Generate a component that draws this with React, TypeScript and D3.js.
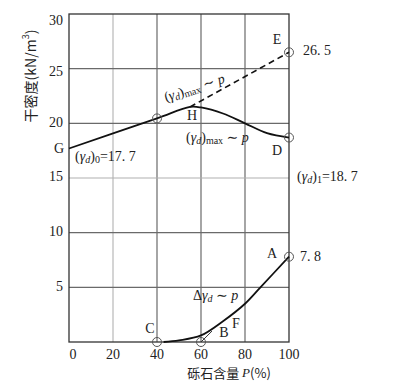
import React from "react";
import * as d3 from "d3";

const xTicks = [0, 20, 40, 60, 80, 100];
const yTicks = [5, 10, 15, 20, 25, 30];

// solid (γd)max ~ p curve
const solidP = [0, 40, 55, 60, 70, 80, 90, 100];
const solidV = [17.7, 20.45, 21.5, 21.45, 20.9, 20.0, 19.1, 18.7];

// dashed (γd)max ~ p extension
const dashP = [55, 100];
const dashV = [21.5, 26.5];

// Δγd ~ p curve
const deltaP = [43, 50, 60, 70, 80, 87, 100];
const deltaV = [0, 0.15, 0.6, 1.9, 3.5, 5.0, 7.8];

// marked points (circles)
const markP = [40, 100, 100, 40, 60, 100];
const markV = [20.45, 26.5, 18.7, 0, 0, 7.8];

const W = 401;
const H = 381;
const serif = "'Liberation Serif', 'DejaVu Serif', 'Noto Sans CJK SC', serif";
const cjk = "'Noto Sans CJK SC', 'Liberation Serif', serif";

export default function App() {
  const x = d3.scaleLinear().domain([0, 100]).range([69, 289]);
  const y = d3.scaleLinear().domain([0, 30]).range([342, 14]);

  const line = d3
    .line<[number, number]>()
    .x((d) => x(d[0]))
    .y((d) => y(d[1]))
    .curve(d3.curveCatmullRom.alpha(0.5));

  const solid = solidP.map((p, i) => [p, solidV[i]] as [number, number]);
  const dash = dashP.map((p, i) => [p, dashV[i]] as [number, number]);
  const delta = deltaP.map((p, i) => [p, deltaV[i]] as [number, number]);

  const lightX = (v: number) => v === 20;
  const lightY = (v: number) => v === 15;

  const gammaD = (subText: string) => [
    <tspan key="a">(</tspan>,
    <tspan key="b" fontStyle="italic">γ</tspan>,
    <tspan key="c" fontSize={10} fontStyle="italic" dy={3}>d</tspan>,
    <tspan key="d" dy={-3}>)</tspan>,
    <tspan key="e" fontSize={10} dy={3}>{subText}</tspan>,
  ];

  return (
    <svg
      width={W}
      height={H}
      style={{ position: "absolute", left: 0, top: 0, background: "#fff" }}
    >
      {/* grid */}
      {xTicks
        .filter((v) => v > 0 && v < 100)
        .map((v) => (
          <line
            key={"gx" + v}
            x1={x(v)}
            x2={x(v)}
            y1={y(0)}
            y2={y(30)}
            stroke={lightX(v) ? "#b8b8b8" : "#6a6a6a"}
            strokeWidth={1.2}
          />
        ))}
      {yTicks
        .filter((v) => v > 0 && v < 30)
        .map((v) => (
          <line
            key={"gy" + v}
            x1={x(0)}
            x2={x(100)}
            y1={y(v)}
            y2={y(v)}
            stroke={lightY(v) ? "#b0b0b0" : "#6a6a6a"}
            strokeWidth={1.2}
          />
        ))}
      <rect
        x={x(0)}
        y={y(30)}
        width={x(100) - x(0)}
        height={y(0) - y(30)}
        fill="none"
        stroke="#333"
        strokeWidth={1.3}
      />

      {/* tick labels */}
      {xTicks.map((v) => (
        <text
          key={"tx" + v}
          x={x(v) + (v === 0 ? 4 : 0)}
          y={356}
          textAnchor="middle"
          dominantBaseline="middle"
          fontFamily={serif}
          fontSize={14}
          fill="#222"
        >
          {v}
        </text>
      ))}
      {yTicks.map((v) => (
        <text
          key={"ty" + v}
          x={63}
          y={y(v) + (v === 30 ? 8 : v === 25 ? 4 : 0)}
          textAnchor="end"
          dominantBaseline="middle"
          fontFamily={serif}
          fontSize={14}
          fill="#222"
        >
          {v}
        </text>
      ))}

      {/* axis titles */}
      <text
        transform={`translate(32,76) rotate(-90)`}
        textAnchor="middle"
        dominantBaseline="middle"
        fontFamily={cjk}
        fontSize={14}
        fill="#222"
      >
        <tspan>干密度(kN/m</tspan>
        <tspan fontSize={9} dy={-5}>3</tspan>
        <tspan dy={5}>)</tspan>
      </text>
      <text
        x={229}
        y={374}
        textAnchor="middle"
        dominantBaseline="middle"
        fontFamily={cjk}
        fontSize={13}
        fill="#222"
      >
        <tspan>砾石含量 </tspan>
        <tspan fontFamily={serif} fontStyle="italic">P</tspan>
        <tspan>(%)</tspan>
      </text>

      {/* curves */}
      <path d={line(solid) || ""} fill="none" stroke="#111" strokeWidth={1.8} />
      <path
        d={line(dash) || ""}
        fill="none"
        stroke="#111"
        strokeWidth={1.6}
        strokeDasharray="6,4"
      />
      <path d={line(delta) || ""} fill="none" stroke="#111" strokeWidth={1.8} />
      {/* leader from B */}
      <line
        x1={x(60)}
        y1={y(0)}
        x2={x(65)}
        y2={y(1.0)}
        stroke="#333"
        strokeWidth={1}
      />

      {/* circles */}
      {markP.map((p, i) => (
        <circle
          key={"m" + i}
          cx={x(p)}
          cy={y(markV[i])}
          r={4.5}
          fill="none"
          stroke="#555"
          strokeWidth={1}
        />
      ))}

      {/* annotations */}
      <g fontFamily={serif} fontSize={14} fill="#222" dominantBaseline="middle">
        <text x={x(100) - 12} y={y(26.5) - 11} textAnchor="middle">E</text>
        <text x={x(100) + 14} y={y(26.5)}>26. 5</text>
        <text x={192} y={117} textAnchor="middle">H</text>
        <text x={59} y={150} textAnchor="middle">G</text>
        <text x={75} y={158}>
          {gammaD("0")}
          <tspan dy={-3}>=17. 7</tspan>
        </text>
        <text transform="translate(165,99) rotate(-18)">
          {gammaD("max")}
          <tspan dy={-3}> ∼ </tspan>
          <tspan fontStyle="italic">p</tspan>
        </text>
        <text x={186} y={139}>
          {gammaD("max")}
          <tspan dy={-3}> ∼ </tspan>
          <tspan fontStyle="italic">p</tspan>
        </text>
        <text x={x(100) - 12} y={y(18.7) + 14} textAnchor="middle">D</text>
        <text x={297} y={178}>
          {gammaD("1")}
          <tspan dy={-3}>=18. 7</tspan>
        </text>
        <text x={x(100) - 17} y={y(7.8) - 2} textAnchor="middle">A</text>
        <text x={x(100) + 11} y={y(7.8) + 1}>7. 8</text>
        <text x={193} y={297}>
          <tspan>Δ</tspan>
          <tspan fontStyle="italic">γ</tspan>
          <tspan fontSize={10} fontStyle="italic" dy={3}>d</tspan>
          <tspan dy={-3}> ∼ </tspan>
          <tspan fontStyle="italic">p</tspan>
        </text>
        <text x={236} y={325} textAnchor="middle">F</text>
        <text x={224} y={334} textAnchor="middle">B</text>
        <text x={x(40) - 7} y={330} textAnchor="middle">C</text>
      </g>
    </svg>
  );
}
